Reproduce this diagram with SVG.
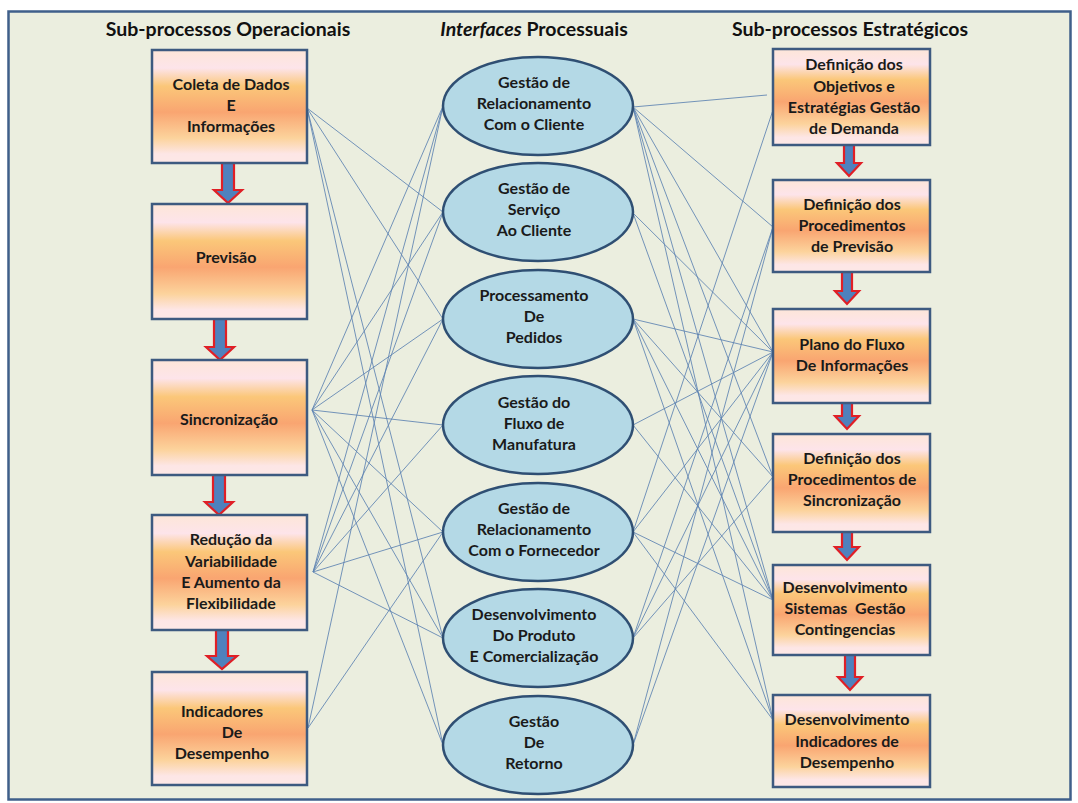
<svg xmlns="http://www.w3.org/2000/svg" width="1078" height="803" viewBox="0 0 1078 803">
  <defs>
    <linearGradient id="boxFill" x1="0" y1="0" x2="0" y2="1">
      <stop offset="0" stop-color="#fde6d8"/>
      <stop offset="0.16" stop-color="#fde4ea"/>
      <stop offset="0.32" stop-color="#fbc779"/>
      <stop offset="0.55" stop-color="#f9a571"/>
      <stop offset="0.78" stop-color="#fcd39c"/>
      <stop offset="0.92" stop-color="#fde6e6"/>
      <stop offset="1" stop-color="#fde8e6"/>
    </linearGradient>
  </defs>
  <style>
    .frame { fill: #ebeedf; stroke: #3f5f8a; stroke-width: 2.5; }
    .box { fill: url(#boxFill); stroke: #3d5a80; stroke-width: 2.5; }
    .oval { fill: #b4d9e6; stroke: #2f4f73; stroke-width: 2.5; }
    .title { font-family: Lato, "Liberation Sans", sans-serif; font-weight: 700; font-size: 19.5px; fill: #111; text-anchor: middle; }
    .lbl { font-family: Lato, "Liberation Sans", sans-serif; font-weight: 700; font-size: 16px; fill: #1a1a1a; text-anchor: middle; }
    .link { stroke: #5d82b2; stroke-width: 1; fill: none; opacity: 0.85; }
    .step { fill: #4f81bd; stroke: #e01f26; stroke-width: 2.2; stroke-linejoin: miter; }
  </style>

  <rect x="0" y="0" width="1078" height="803" fill="#ffffff"/>
  <rect class="frame" x="8.5" y="11.5" width="1062" height="788"/>

  <!-- column headings -->
  <text class="title" x="228" y="36">Sub-processos Operacionais</text>
  <text class="title" x="534" y="36"><tspan font-style="italic">Interfaces</tspan> Processuais</text>
  <text class="title" x="850" y="36">Sub-processos Estratégicos</text>

  <!-- connectors -->
  <g id="connectors">
    <!-- operational sub-processes to interfaces -->
    <line class="link" x1="307" y1="108" x2="443" y2="212"/>
    <line class="link" x1="307" y1="108" x2="443" y2="319"/>
    <line class="link" x1="307" y1="108" x2="443" y2="638"/>
    <line class="link" x1="307" y1="108" x2="443" y2="745"/>

    <line class="link" x1="312" y1="410" x2="443" y2="106"/>
    <line class="link" x1="312" y1="410" x2="443" y2="212"/>
    <line class="link" x1="312" y1="410" x2="443" y2="319"/>
    <line class="link" x1="312" y1="410" x2="443" y2="425"/>
    <line class="link" x1="312" y1="410" x2="443" y2="532"/>
    <line class="link" x1="312" y1="410" x2="443" y2="638"/>
    <line class="link" x1="312" y1="410" x2="443" y2="745"/>

    <line class="link" x1="313" y1="572" x2="443" y2="106"/>
    <line class="link" x1="313" y1="572" x2="443" y2="212"/>
    <line class="link" x1="313" y1="572" x2="443" y2="319"/>
    <line class="link" x1="313" y1="572" x2="443" y2="425"/>
    <line class="link" x1="313" y1="572" x2="443" y2="532"/>
    <line class="link" x1="313" y1="572" x2="443" y2="638"/>

    <line class="link" x1="308" y1="728" x2="443" y2="106"/>
    <line class="link" x1="308" y1="728" x2="443" y2="532"/>

    <!-- interfaces to strategic sub-processes -->
    <line class="link" x1="633" y1="107" x2="767" y2="95"/>
    <line class="link" x1="633" y1="107" x2="773" y2="227"/>
    <line class="link" x1="633" y1="107" x2="773" y2="352"/>
    <line class="link" x1="633" y1="107" x2="773" y2="477"/>
    <line class="link" x1="633" y1="107" x2="773" y2="600"/>
    <line class="link" x1="633" y1="107" x2="773" y2="720"/>

    <line class="link" x1="633" y1="213" x2="773" y2="352"/>
    <line class="link" x1="633" y1="213" x2="773" y2="600"/>

    <line class="link" x1="633" y1="319" x2="773" y2="352"/>
    <line class="link" x1="633" y1="319" x2="773" y2="477"/>
    <line class="link" x1="633" y1="319" x2="773" y2="600"/>
    <line class="link" x1="633" y1="319" x2="773" y2="720"/>

    <line class="link" x1="633" y1="425" x2="773" y2="352"/>
    <line class="link" x1="633" y1="425" x2="773" y2="600"/>

    <line class="link" x1="633" y1="532" x2="773" y2="110"/>
    <line class="link" x1="633" y1="532" x2="773" y2="352"/>
    <line class="link" x1="633" y1="532" x2="773" y2="600"/>
    <line class="link" x1="633" y1="532" x2="773" y2="720"/>

    <line class="link" x1="633" y1="638" x2="773" y2="227"/>
    <line class="link" x1="633" y1="638" x2="773" y2="352"/>
    <line class="link" x1="633" y1="638" x2="773" y2="477"/>

    <line class="link" x1="633" y1="745" x2="773" y2="227"/>
    <line class="link" x1="633" y1="745" x2="773" y2="352"/>
  </g>

  <!-- flow arrows between sub-processes -->
  <g id="steps">
    <path class="step" d="M222,163 H234 V190 H242 L228,203 L214,190 H222 Z"/>
    <path class="step" d="M214,319 H226 V347 H234 L220,360 L206,347 H214 Z"/>
    <path class="step" d="M213,475 H225 V502 H233 L219,515 L205,502 H213 Z"/>
    <path class="step" d="M216,630 H228 V656 H237 L222,669 L207,656 H216 Z"/>

    <path class="step" d="M844,145 H854 V163 H861 L849,176 L837,163 H844 Z"/>
    <path class="step" d="M842,272 H852 V291 H859 L847,304 L835,291 H842 Z"/>
    <path class="step" d="M842,403 H852 V416 H859 L847,429 L835,416 H842 Z"/>
    <path class="step" d="M842,532 H852 V547 H859 L847,560 L835,547 H842 Z"/>
    <path class="step" d="M845,655 H855 V677 H862 L850,690 L838,677 H845 Z"/>
  </g>

  <!-- operational sub-processes -->
  <g id="op-coleta">
    <rect class="box" x="152" y="50" width="155" height="113"/>
    <text class="lbl" x="231" y="90">Coleta de Dados</text>
    <text class="lbl" x="231" y="111">E</text>
    <text class="lbl" x="231" y="132">Informações</text>
  </g>
  <g id="op-previsao">
    <rect class="box" x="152" y="204" width="155" height="115"/>
    <text class="lbl" x="226" y="263">Previsão</text>
  </g>
  <g id="op-sincronizacao">
    <rect class="box" x="152" y="360" width="155" height="115"/>
    <text class="lbl" x="229" y="425">Sincronização</text>
  </g>
  <g id="op-reducao">
    <rect class="box" x="152" y="515" width="155" height="115"/>
    <text class="lbl" x="231" y="545">Redução da</text>
    <text class="lbl" x="231" y="567">Variabilidade</text>
    <text class="lbl" x="231" y="588">E Aumento da</text>
    <text class="lbl" x="231" y="609">Flexibilidade</text>
  </g>
  <g id="op-indicadores">
    <rect class="box" x="152" y="672" width="155" height="113"/>
    <text class="lbl" x="222" y="717">Indicadores</text>
    <text class="lbl" x="232" y="738">De</text>
    <text class="lbl" x="222" y="759">Desempenho</text>
  </g>

  <!-- process interfaces -->
  <g id="if-crm">
    <ellipse class="oval" cx="538" cy="106" rx="95" ry="49"/>
    <text class="lbl" x="534" y="88">Gestão de</text>
    <text class="lbl" x="534" y="109">Relacionamento</text>
    <text class="lbl" x="534" y="130">Com o Cliente</text>
  </g>
  <g id="if-servico">
    <ellipse class="oval" cx="538" cy="212" rx="95" ry="49"/>
    <text class="lbl" x="534" y="194">Gestão de</text>
    <text class="lbl" x="534" y="215">Serviço</text>
    <text class="lbl" x="534" y="236">Ao Cliente</text>
  </g>
  <g id="if-pedidos">
    <ellipse class="oval" cx="538" cy="319" rx="95" ry="49"/>
    <text class="lbl" x="534" y="301">Processamento</text>
    <text class="lbl" x="534" y="322">De</text>
    <text class="lbl" x="534" y="343">Pedidos</text>
  </g>
  <g id="if-manufatura">
    <ellipse class="oval" cx="538" cy="425" rx="95" ry="49"/>
    <text class="lbl" x="534" y="408">Gestão do</text>
    <text class="lbl" x="534" y="429">Fluxo de</text>
    <text class="lbl" x="534" y="450">Manufatura</text>
  </g>
  <g id="if-fornecedor">
    <ellipse class="oval" cx="538" cy="532" rx="95" ry="49"/>
    <text class="lbl" x="534" y="514">Gestão de</text>
    <text class="lbl" x="534" y="535">Relacionamento</text>
    <text class="lbl" x="534" y="556">Com o Fornecedor</text>
  </g>
  <g id="if-produto">
    <ellipse class="oval" cx="538" cy="638" rx="95" ry="49"/>
    <text class="lbl" x="534" y="620">Desenvolvimento</text>
    <text class="lbl" x="534" y="641">Do Produto</text>
    <text class="lbl" x="534" y="662">E Comercialização</text>
  </g>
  <g id="if-retorno">
    <ellipse class="oval" cx="538" cy="745" rx="95" ry="49"/>
    <text class="lbl" x="534" y="727">Gestão</text>
    <text class="lbl" x="534" y="748">De</text>
    <text class="lbl" x="534" y="769">Retorno</text>
  </g>

  <!-- strategic sub-processes -->
  <g id="st-objetivos">
    <rect class="box" x="773" y="49" width="157" height="96"/>
    <text class="lbl" x="854" y="70">Definição dos</text>
    <text class="lbl" x="854" y="92">Objetivos e</text>
    <text class="lbl" x="854" y="113">Estratégias Gestão</text>
    <text class="lbl" x="854" y="134">de Demanda</text>
  </g>
  <g id="st-previsao">
    <rect class="box" x="773" y="180" width="157" height="92"/>
    <text class="lbl" x="852" y="210">Definição dos</text>
    <text class="lbl" x="852" y="231">Procedimentos</text>
    <text class="lbl" x="852" y="252">de Previsão</text>
  </g>
  <g id="st-informacoes">
    <rect class="box" x="773" y="309" width="157" height="94"/>
    <text class="lbl" x="852" y="350">Plano do Fluxo</text>
    <text class="lbl" x="852" y="371">De Informações</text>
  </g>
  <g id="st-sincronizacao">
    <rect class="box" x="773" y="434" width="157" height="98"/>
    <text class="lbl" x="852" y="464">Definição dos</text>
    <text class="lbl" x="852" y="485">Procedimentos de</text>
    <text class="lbl" x="852" y="506">Sincronização</text>
  </g>
  <g id="st-contingencias">
    <rect class="box" x="773" y="565" width="157" height="90"/>
    <text class="lbl" x="845" y="593">Desenvolvimento</text>
    <text class="lbl" x="845" y="614" xml:space="preserve">Sistemas  Gestão</text>
    <text class="lbl" x="845" y="635">Contingencias</text>
  </g>
  <g id="st-indicadores">
    <rect class="box" x="773" y="695" width="157" height="92"/>
    <text class="lbl" x="847" y="725">Desenvolvimento</text>
    <text class="lbl" x="847" y="747">Indicadores de</text>
    <text class="lbl" x="847" y="768">Desempenho</text>
  </g>
</svg>
